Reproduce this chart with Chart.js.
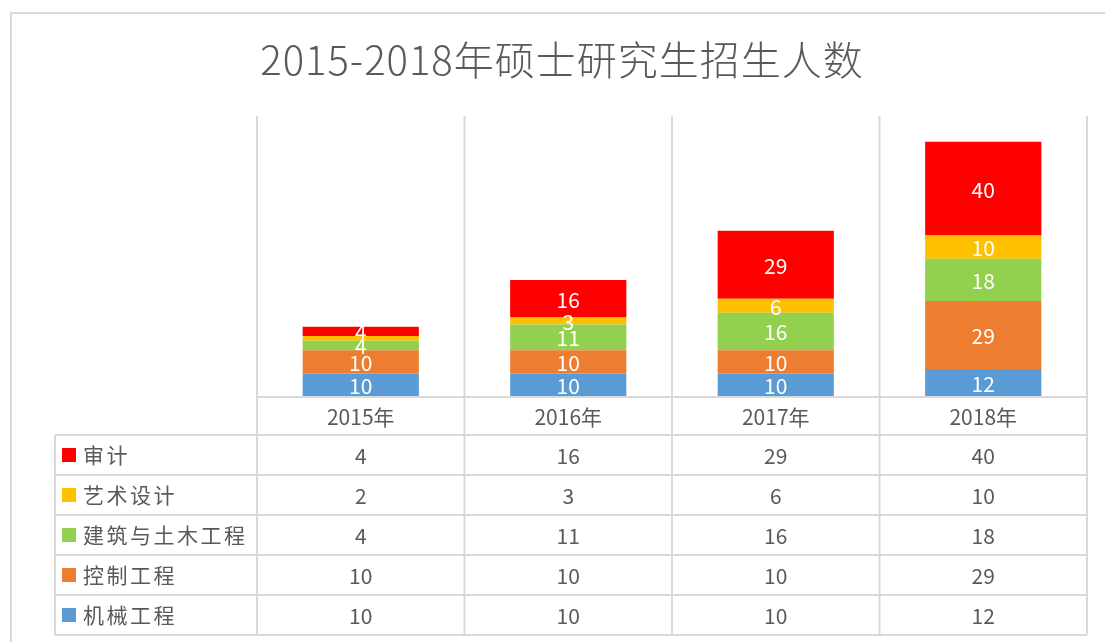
<!DOCTYPE html>
<html>
<head>
<meta charset="utf-8">
<script src="https://cdn.jsdelivr.net/npm/chart.js@4.4.1/dist/chart.umd.min.js"></script>
<style>
  html, body { margin: 0; padding: 0; background: #ffffff; }
</style>
</head>
<body>
<canvas id="chart" width="1105" height="642"></canvas>
<script>
// ## chart data ##
const titleText = "2015-2018年硕士研究生招生人数";
const years = ["2015年", "2016年", "2017年", "2018年"];
const seriesNames = ["机械工程", "控制工程", "建筑与土木工程", "艺术设计", "审计"];
const jixie = [10, 10, 10, 12];
const kongzhi = [10, 10, 10, 29];
const jianzhu = [4, 11, 16, 18];
const yishu = [2, 3, 6, 10];
const shenji = [4, 16, 29, 40];
const yMax = 120;

const colors = ["#5B9BD5", "#ED7D31", "#92D050", "#FFC000", "#FF0000"];
const seriesValues = [jixie, kongzhi, jianzhu, yishu, shenji];

const FONT = '"Noto Sans CJK SC", "Noto Sans", sans-serif';
const GRID = "#d9d9d9";
const TEXT = "#595959";

// frame + title drawn by hand so the letter spacing can be set
const framePlugin = {
  id: "frame",
  beforeDraw(chart) {
    const ctx = chart.ctx;
    ctx.save();
    ctx.fillStyle = "#ffffff";
    ctx.fillRect(0, 0, chart.width, chart.height);
    ctx.strokeStyle = GRID;
    ctx.lineWidth = 2;
    ctx.beginPath();
    ctx.moveTo(11, chart.height + 5);
    ctx.lineTo(11, 13);
    ctx.lineTo(chart.width + 5, 13);
    ctx.stroke();

    ctx.fillStyle = TEXT;
    ctx.font = "300 40px " + FONT;
    ctx.letterSpacing = "1px";
    ctx.textAlign = "center";
    ctx.textBaseline = "middle";
    ctx.fillText(titleText, 562, 60);
    ctx.restore();
  },
};

// white value labels inside each segment
const labelPlugin = {
  id: "segLabels",
  afterDatasetsDraw(chart) {
    const ctx = chart.ctx;
    ctx.save();
    ctx.fillStyle = "#ffffff";
    ctx.font = "21px " + FONT;
    ctx.textAlign = "center";
    ctx.textBaseline = "middle";
    chart.data.datasets.forEach(function (ds, i) {
      const meta = chart.getDatasetMeta(i);
      meta.data.forEach(function (bar, j) {
        const h = Math.abs(bar.base - bar.y);
        if (h < 6) return; // too thin, Excel drops it
        ctx.fillText(String(ds.data[j]), bar.x, (bar.y + bar.base) / 2 + 1);
      });
    });
    ctx.restore();
  },
};

// data table under the plot (Excel style)
const tablePlugin = {
  id: "dataTable",
  afterDraw(chart) {
    const ctx = chart.ctx;
    const xs = chart.scales.x;
    const area = chart.chartArea;
    const headH = 38;
    const rowH = 40;
    const leftX = 55;
    const nRows = chart.data.datasets.length;
    const bottom = area.bottom + headH + rowH * nRows;
    const half = (area.right - area.left) / years.length / 2;

    ctx.save();
    ctx.strokeStyle = GRID;
    ctx.lineWidth = 2;

    // vertical lines
    ctx.beginPath();
    for (var i = 0; i <= years.length; i++) {
      const px = i < years.length ? xs.getPixelForValue(i) - half : xs.getPixelForValue(i - 1) + half;
      ctx.moveTo(px, area.top);
      ctx.lineTo(px, bottom);
    }
    ctx.moveTo(leftX, area.bottom + headH);
    ctx.lineTo(leftX, bottom);
    // horizontal lines
    ctx.moveTo(area.left, area.bottom);
    ctx.lineTo(area.right, area.bottom);
    for (var r = 0; r <= nRows; r++) {
      const py = area.bottom + headH + r * rowH;
      ctx.moveTo(leftX, py);
      ctx.lineTo(area.right, py);
    }
    ctx.stroke();

    ctx.fillStyle = TEXT;
    ctx.font = "21px " + FONT;
    ctx.textAlign = "center";
    ctx.textBaseline = "middle";
    years.forEach(function (y, i) {
      ctx.fillText(y, xs.getPixelForValue(i), area.bottom + headH / 2 + 1);
    });

    // rows: top row is the last (topmost) series
    for (var k = 0; k < nRows; k++) {
      const dsIndex = nRows - 1 - k;
      const ds = chart.data.datasets[dsIndex];
      const cy = area.bottom + headH + k * rowH + rowH / 2;
      ctx.fillStyle = ds.backgroundColor;
      ctx.fillRect(62, cy - 7, 14, 14);
      ctx.fillStyle = TEXT;
      ctx.textAlign = "left";
      ctx.font = "21px " + FONT;
      ctx.letterSpacing = "2.5px";
      ctx.fillText(ds.label, 83, cy);
      ctx.letterSpacing = "0px";
      ctx.textAlign = "center";
      ds.data.forEach(function (v, j) {
        ctx.fillText(String(v), xs.getPixelForValue(j), cy + 1);
      });
    }
    ctx.restore();
  },
};

const datasets = seriesNames.map(function (name, i) {
  return {
    label: name,
    data: seriesValues[i],
    backgroundColor: colors[i],
    borderWidth: 0,
    categoryPercentage: 1.0,
    barPercentage: 0.56,
  };
});

const chart = new Chart(document.getElementById("chart").getContext("2d"), {
  type: "bar",
  data: {
    labels: years,
    datasets: datasets,
  },
  options: {
    responsive: false,
    animation: false,
    devicePixelRatio: 1,
    layout: {
      padding: { left: 257, right: 18, top: 116, bottom: 245 },
    },
    plugins: {
      legend: { display: false },
      title: { display: false },
      tooltip: { enabled: false },
    },
    scales: {
      x: {
        stacked: true,
        display: false,
      },
      y: {
        stacked: true,
        display: false,
        min: 0,
        max: yMax,
      },
    },
  },
  plugins: [framePlugin, labelPlugin, tablePlugin],
});
</script>
</body>
</html>
